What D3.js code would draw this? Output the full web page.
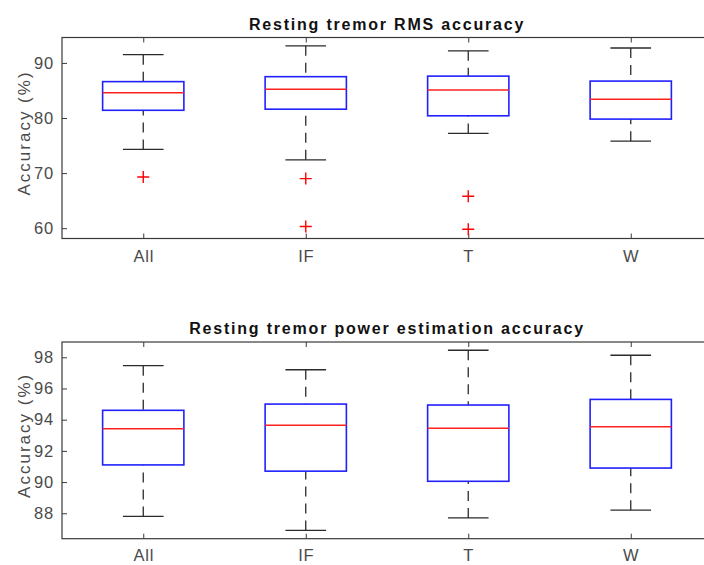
<!DOCTYPE html>
<html>
<head>
<meta charset="utf-8">
<script src="https://cdn.jsdelivr.net/npm/d3@7"></script>
<style>
  html, body { margin: 0; padding: 0; background: #fff; }
  svg { display: block; font-family: "Liberation Sans", Arial, sans-serif; }
</style>
</head>
<body>
<svg id="chart" width="704" height="565"></svg>
<script>
// Groups shown along the x axis
const categories = ["All", "IF", "T", "W"];

// Resting tremor RMS accuracy (%) — box statistics per group
const rmsLow    = [74.3, 72.4, 77.2, 75.8];
const rmsQ1     = [81.4, 81.6, 80.4, 79.8];
const rmsMedian = [84.6, 85.2, 85.1, 83.4];
const rmsQ3     = [86.6, 87.5, 87.6, 86.7];
const rmsHigh   = [91.5, 93.1, 92.2, 92.7];
const rmsOutliers = [[69.3], [69.0, 60.3], [65.8, 59.8], []];
const rmsTicks  = [60, 70, 80, 90];

// Resting tremor power estimation accuracy (%) — box statistics per group
const powLow    = [87.8, 86.9, 87.7, 88.2];
const powQ1     = [91.1, 90.7, 90.05, 90.9];
const powMedian = [93.42, 93.65, 93.45, 93.55];
const powQ3     = [94.6, 95.0, 94.94, 95.3];
const powHigh   = [97.46, 97.2, 98.45, 98.13];
const powOutliers = [[], [], [], []];
const powTicks  = [88, 90, 92, 94, 96, 98];

const svg = d3.select("#chart");

function boxPanel(opts) {
  const { top, bottom, left, right, yDomain, yTicks, title, labelPad,
          low, q1, med, q3, high, outliers } = opts;

  const x = d3.scaleLinear().domain([0.5, categories.length + 0.5]).range([left, right]);
  const y = d3.scaleLinear().domain(yDomain).range([bottom, top]);
  const g = svg.append("g");

  // axes frame
  g.append("rect")
    .attr("x", left).attr("y", top)
    .attr("width", right - left).attr("height", bottom - top)
    .attr("fill", "none").attr("stroke", "#3a3a3a").attr("stroke-width", 1.2);

  const pos = categories.map((c, i) => i + 1);

  // y axis, ticks pointing inward
  const ya = g.append("g").attr("transform", `translate(${left},0)`)
    .call(d3.axisLeft(y).tickValues(yTicks).tickSizeInner(-5).tickSizeOuter(0).tickPadding(8));
  ya.select(".domain").remove();
  ya.selectAll("line").attr("stroke", "#3a3a3a");
  ya.selectAll("text").attr("fill", "#4a4a4a").style("font-size", "16.5px").style("letter-spacing", "0.8px");

  // x axis at the bottom with labels, inward ticks
  const xa = g.append("g").attr("transform", `translate(0,${bottom})`)
    .call(d3.axisBottom(x).tickValues(pos).tickFormat((d) => categories[d - 1])
      .tickSizeInner(-5).tickSizeOuter(0).tickPadding(labelPad));
  xa.select(".domain").remove();
  xa.selectAll("line").attr("stroke", "#3a3a3a");
  xa.selectAll("text").attr("fill", "#4a4a4a").style("font-size", "16.5px").style("letter-spacing", "0.8px");

  // matching inward ticks along the top edge
  const xt = g.append("g").attr("transform", `translate(0,${top})`)
    .call(d3.axisTop(x).tickValues(pos).tickFormat("").tickSizeInner(-5).tickSizeOuter(0));
  xt.select(".domain").remove();
  xt.selectAll("line").attr("stroke", "#3a3a3a");

  // y axis title
  g.append("text")
    .attr("transform", `translate(30,${(top + bottom) / 2 - 5}) rotate(-90)`)
    .attr("text-anchor", "middle")
    .attr("fill", "#4a4a4a")
    .style("font-size", "17px").style("letter-spacing", "2px")
    .text("Accuracy (%)");

  // panel title
  g.append("text")
    .attr("x", (left + right) / 2).attr("y", top - 8)
    .attr("text-anchor", "middle")
    .attr("fill", "#111")
    .style("font-size", "16px").style("font-weight", "bold").style("letter-spacing", "1.8px")
    .text(title);

  const boxW = x(1.25) - x(1);   // half box width (0.25 units)
  const capW = x(1.125) - x(1);  // half whisker cap width

  const groups = g.selectAll(".grp").data(pos).join("g").attr("class", "grp");

  // dashed whiskers
  groups.append("line")
    .attr("x1", (d) => x(d)).attr("x2", (d) => x(d))
    .attr("y1", (d) => y(high[d - 1])).attr("y2", (d) => y(q3[d - 1]))
    .attr("stroke", "#2b2b2b").attr("stroke-width", 1.3).attr("stroke-dasharray", "10,7");
  groups.append("line")
    .attr("x1", (d) => x(d)).attr("x2", (d) => x(d))
    .attr("y1", (d) => y(low[d - 1])).attr("y2", (d) => y(q1[d - 1]))
    .attr("stroke", "#2b2b2b").attr("stroke-width", 1.3).attr("stroke-dasharray", "10,7");

  // whisker caps
  [high, low].forEach((arr) => {
    groups.append("line")
      .attr("x1", (d) => x(d) - capW).attr("x2", (d) => x(d) + capW)
      .attr("y1", (d) => y(arr[d - 1])).attr("y2", (d) => y(arr[d - 1]))
      .attr("stroke", "#2b2b2b").attr("stroke-width", 1.3);
  });

  // boxes
  groups.append("rect")
    .attr("x", (d) => x(d) - boxW)
    .attr("y", (d) => y(q3[d - 1]))
    .attr("width", boxW * 2)
    .attr("height", (d) => y(q1[d - 1]) - y(q3[d - 1]))
    .attr("fill", "none").attr("stroke", "#2020ff").attr("stroke-width", 1.6);

  // medians
  groups.append("line")
    .attr("x1", (d) => x(d) - boxW).attr("x2", (d) => x(d) + boxW)
    .attr("y1", (d) => y(med[d - 1])).attr("y2", (d) => y(med[d - 1]))
    .attr("stroke", "#ff2020").attr("stroke-width", 1.5);

  // outliers drawn as red plus signs
  const pts = [];
  outliers.forEach((arr, i) => arr.forEach((v) => pts.push({ c: i + 1, v })));
  g.selectAll(".out").data(pts).join("path")
    .attr("class", "out")
    .attr("transform", (d) => `translate(${x(d.c)},${y(d.v)})`)
    .attr("d", "M-6,0H6M0,-6V6")
    .attr("stroke", "#ff0000").attr("stroke-width", 1.4).attr("fill", "none");
}

boxPanel({
  top: 37.5, bottom: 238.5, left: 62, right: 712,
  yDomain: [58.13, 94.61], yTicks: rmsTicks, labelPad: 12,
  title: "Resting tremor RMS accuracy",
  low: rmsLow, q1: rmsQ1, med: rmsMedian, q3: rmsQ3, high: rmsHigh, outliers: rmsOutliers
});

boxPanel({
  top: 342, bottom: 538.7, left: 62, right: 712,
  yDomain: [86.37, 98.98], yTicks: powTicks, labelPad: 11,
  title: "Resting tremor power estimation accuracy",
  low: powLow, q1: powQ1, med: powMedian, q3: powQ3, high: powHigh, outliers: powOutliers
});
</script>
</body>
</html>
